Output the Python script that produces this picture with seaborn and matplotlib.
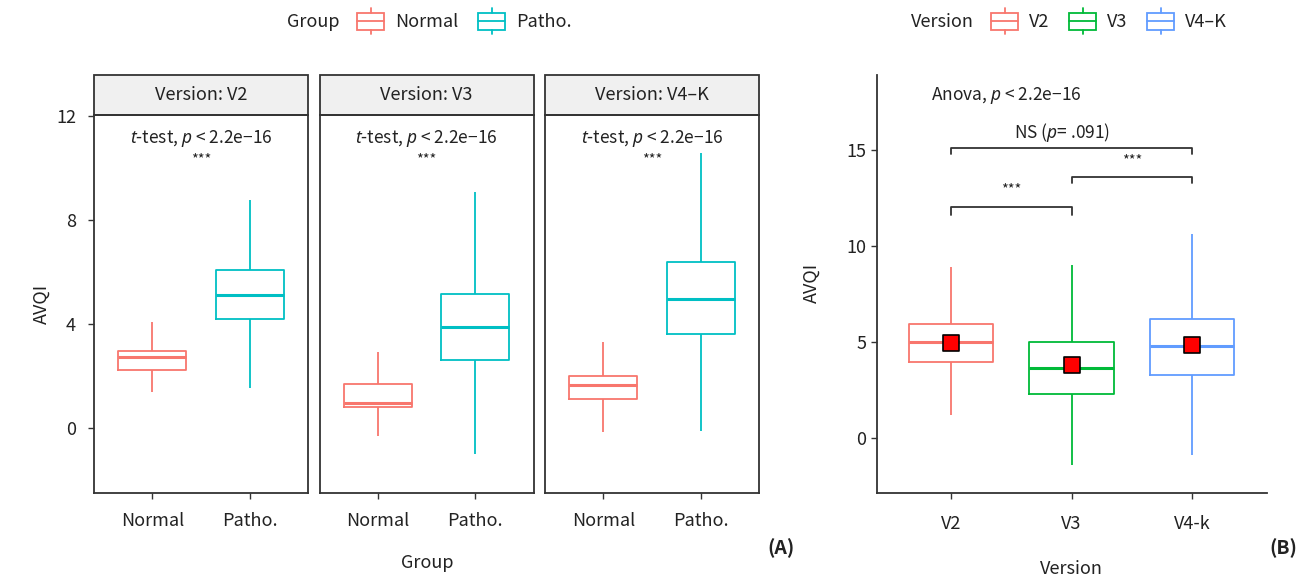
"""
Boxplots of AVQI per version: (A) Normal vs Patho. faceted by version,
(B) all recordings by version with means and pairwise comparisons.
"""

import numpy as np
import pandas as pd
import matplotlib
matplotlib.use('Agg')
import matplotlib.pyplot as plt
import seaborn as sns
from matplotlib.legend_handler import HandlerBase
from matplotlib.patches import Patch, Rectangle
from matplotlib.lines import Line2D

# ---- data (five-number summaries) ----
# order in each list: lower whisker, Q1, median, Q3, upper whisker
versions = ['V2', 'V3', 'V4-K']
strip_labels = ['Version: V2', 'Version: V3', 'Version: V4\u2013K']
groups = ['Normal', 'Patho.']

v2_normal = [1.36, 2.23, 2.71, 2.96, 4.08]
v2_patho = [1.54, 4.17, 5.10, 6.06, 8.79]
v3_normal = [-0.32, 0.80, 0.95, 1.68, 2.91]
v3_patho = [-1.01, 2.60, 3.87, 5.14, 9.07]
v4k_normal = [-0.17, 1.10, 1.64, 1.99, 3.30]
v4k_patho = [-0.13, 3.60, 4.94, 6.38, 10.59]

version_ticks = ['V2', 'V3', 'V4-k']
version_legend = ['V2', 'V3', 'V4\u2013K']
all_v2 = [1.22, 3.97, 5.01, 5.96, 8.94]
all_v3 = [-1.37, 2.32, 3.65, 5.00, 9.04]
all_v4k = [-0.85, 3.31, 4.81, 6.23, 10.63]
version_means = [4.99, 3.83, 4.85]

group_colors = ['#F8766D', '#00BFC4']
version_colors = ['#F8766D', '#00BA38', '#619CFF']

# pairwise comparisons in (B): from, to, bracket height, label
pair_from = [0, 1, 0]
pair_to = [2, 2, 1]
pair_y = [15.14, 13.60, 12.06]
pair_labels = ['NS ($p$= .091)', '***', '***']

sns.set_theme(style='white')
plt.rcParams['font.family'] = ['Noto Sans CJK KR', 'DejaVu Sans']
plt.rcParams['mathtext.fontset'] = 'custom'
plt.rcParams['mathtext.rm'] = 'Noto Sans CJK KR'
plt.rcParams['mathtext.it'] = 'Noto Sans:italic'
plt.rcParams['text.color'] = '#222222'

W, H = 1308, 577
dark = '#333333'


def build_a():
    rows = []
    summaries = {'V2': (v2_normal, v2_patho), 'V3': (v3_normal, v3_patho),
                 'V4-K': (v4k_normal, v4k_patho)}
    for v in versions:
        for g, vals in zip(groups, summaries[v]):
            for val in vals:
                rows.append({'Version': v, 'Group': g, 'AVQI': val})
    return pd.DataFrame(rows)


def build_b():
    rows = []
    for v, vals in zip(version_ticks, [all_v2, all_v3, all_v4k]):
        for val in vals:
            rows.append({'Version': v, 'AVQI': val})
    return pd.DataFrame(rows)


class BoxKeyHandler(HandlerBase):
    """Legend key drawn like a small box with whiskers."""
    def create_artists(self, legend, orig_handle, xdescent, ydescent,
                       width, height, fontsize, trans):
        c = orig_handle.get_edgecolor()
        x0, y0 = -xdescent, -ydescent
        xm = x0 + width / 2
        box = Rectangle((x0, y0), width, height, fc='white', ec=c, lw=1.3,
                        transform=trans)
        med = Line2D([x0, x0 + width], [y0 + height / 2] * 2, color=c,
                     lw=1.3, transform=trans)
        w_top = Line2D([xm, xm], [y0 + height, y0 + height * 1.25], color=c,
                       lw=1.3, transform=trans)
        w_bot = Line2D([xm, xm], [y0, y0 - height * 0.25], color=c,
                       lw=1.3, transform=trans)
        return [box, med, w_top, w_bot]


def style_ticks(ax, xpad, ypad):
    ax.tick_params(axis='both', direction='out', length=4, width=1,
                   color=dark, labelsize=13, labelcolor='#222222',
                   bottom=True, left=True)
    ax.tick_params(axis='x', pad=xpad)
    ax.tick_params(axis='y', pad=ypad)
    ax.set_xlabel('')
    ax.set_ylabel('')


def add_legend(fig, title, title_x, key_x, labels, colors):
    y = 1 - 22 / H
    fig.text(title_x / W, y, title, ha='left', va='center', fontsize=13)
    handles = [Patch(facecolor='white', edgecolor=c) for c in colors]
    fig.legend(handles, labels, loc='center left', bbox_to_anchor=(key_x / W, y),
               ncol=len(labels), frameon=False, borderpad=0, borderaxespad=0,
               handler_map={Patch: BoxKeyHandler()}, handlelength=1.5,
               handleheight=1.1, handletextpad=0.6, columnspacing=1.1,
               fontsize=13)


df_a = build_a()
df_b = build_b()

fig = plt.figure(figsize=(W / 100, H / 100), dpi=100)

# ---- (A) faceted panels ----
panel_left = [94, 319.5, 545]
panel_w = 214
for i, v in enumerate(versions):
    ax = fig.add_axes([panel_left[i] / W, 1 - 493 / H, panel_w / W, 378 / H])
    sub = df_a[df_a['Version'] == v]
    sns.boxplot(data=sub, x='Group', y='AVQI', hue='Group', order=groups,
                hue_order=groups, palette=group_colors, fill=False,
                whis=np.inf, width=0.7, linewidth=1.3, showcaps=False,
                medianprops={'linewidth': 2.2}, legend=False, ax=ax)
    ax.set_xlim(-0.6, 1.6)
    ax.set_ylim(-2.52, 12.05)
    ax.set_yticks([0, 4, 8, 12])
    style_ticks(ax, xpad=10, ypad=9)
    if i > 0:
        ax.tick_params(axis='y', left=False, labelleft=False)
    for s in ax.spines.values():
        s.set_color(dark)
        s.set_linewidth(1.3)
    # facet strip
    ax.add_patch(Rectangle((0, 1), 1, 40 / 378, transform=ax.transAxes,
                           clip_on=False, fc='#F0F0F0', ec=dark, lw=1.3))
    ax.text(0.5, 1 + 20 / 378, strip_labels[i], transform=ax.transAxes,
            ha='center', va='center', fontsize=13)
    ax.text(0.5, 11.14, '$t$-test, $p$ < 2.2e\u221216', ha='center',
            va='center', fontsize=12.5)
    ax.text(0.5, 10.35, '***', ha='center', va='center', fontsize=10.5)

fig.text(42 / W, 1 - 304 / H, 'AVQI', rotation=90, ha='center', va='center',
         fontsize=13)
fig.text(427 / W, 1 - 563 / H, 'Group', ha='center', va='center', fontsize=13)
fig.text(781 / W, 1 - 548 / H, '(A)', ha='center', va='center', fontsize=14,
         fontweight='bold')

# ---- (B) all recordings by version ----
axb = fig.add_axes([877.5 / W, 1 - 493 / H, 389.5 / W, 418 / H])
sns.boxplot(data=df_b, x='Version', y='AVQI', hue='Version',
            order=version_ticks, hue_order=version_ticks,
            palette=version_colors, fill=False, whis=np.inf, width=0.7,
            linewidth=1.3, showcaps=False, medianprops={'linewidth': 2.2},
            legend=False, ax=axb)
means_df = pd.DataFrame({'Version': version_ticks, 'AVQI': version_means})
sns.stripplot(data=means_df, x='Version', y='AVQI', order=version_ticks,
              marker='s', color='red', size=11.5, edgecolor='black',
              linewidth=1.2, jitter=False, zorder=5, ax=axb)
axb.set_xlim(-0.61, 2.62)
axb.set_ylim(-2.84, 18.93)
axb.set_yticks([0, 5, 10, 15])
style_ticks(axb, xpad=12, ypad=4)
sns.despine(ax=axb)
for side in ['left', 'bottom']:
    axb.spines[side].set_color(dark)
    axb.spines[side].set_linewidth(1.3)

for x1, x2, y, lab in zip(pair_from, pair_to, pair_y, pair_labels):
    drop = 0.3 if lab != '***' or x1 == 1 else 0.42
    axb.plot([x1, x1, x2, x2], [y - drop, y, y, y - drop], color=dark, lw=1.3)
    if lab == '***':
        axb.text((x1 + x2) / 2, y + 0.9, lab, ha='center', va='center',
                 fontsize=10.5)
    else:
        axb.text(0.92, y + 0.8, lab, ha='center', va='center', fontsize=12.5)
axb.text(-0.17, 17.86, 'Anova, $p$ < 2.2e\u221216', ha='left', va='center',
         fontsize=12.5)

fig.text(812 / W, 1 - 283 / H, 'AVQI', rotation=90, ha='center', va='center',
         fontsize=13)
fig.text(1071 / W, 1 - 569 / H, 'Version', ha='center', va='center',
         fontsize=13)
fig.text(1283 / W, 1 - 548 / H, '(B)', ha='center', va='center', fontsize=14,
         fontweight='bold')

# ---- legends on top ----
add_legend(fig, 'Group', 287, 357, groups, group_colors)
add_legend(fig, 'Version', 911, 991, version_legend, version_colors)

fig.savefig('out.png', dpi=100)
